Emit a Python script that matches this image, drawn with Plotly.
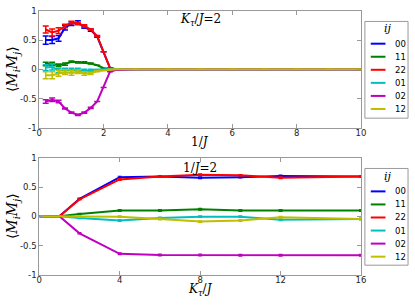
import plotly.graph_objects as go

# ---------------- data ----------------
labels = ["00", "11", "22", "01", "02", "12"]
colors = ["#0000ff", "#008000", "#ff0000", "#00bfbf", "#bf00bf", "#bfbf00"]

# top panel: vs 1/J at K_tau/J = 2
x_top = [0.2, 0.4, 0.6, 0.8, 1.0, 1.2, 1.4, 1.6, 1.8, 2.0, 2.2, 2.4, 3, 4, 5, 6, 7, 8, 9, 10]
top_00 = [0.50, 0.50, 0.53, 0.71, 0.78, 0.80, 0.72, 0.67, 0.56, 0.30, 0.02, 0.0, 0, 0, 0, 0, 0, 0, 0, 0]
top_11 = [0.09, 0.09, 0.07, 0.09, 0.13, 0.12, 0.12, 0.10, 0.07, 0.02, 0.0, 0.0, 0, 0, 0, 0, 0, 0, 0, 0]
top_22 = [0.68, 0.63, 0.66, 0.74, 0.80, 0.78, 0.74, 0.68, 0.57, 0.30, 0.02, 0.0, 0, 0, 0, 0, 0, 0, 0, 0]
top_01 = [0.03, 0.04, -0.02, -0.02, -0.02, -0.01, -0.03, -0.02, -0.01, 0.0, 0.0, 0.0, 0, 0, 0, 0, 0, 0, 0, 0]
top_02 = [-0.55, -0.52, -0.55, -0.67, -0.74, -0.78, -0.74, -0.66, -0.55, -0.31, -0.04, -0.01, 0, 0, 0, 0, 0, 0, 0, 0]
top_12 = [-0.10, -0.10, -0.07, -0.05, -0.06, -0.04, -0.07, -0.07, -0.03, -0.02, 0.0, 0.0, 0, 0, 0, 0, 0, 0, 0, 0]

err_top_00 = [0.07, 0.06, 0.05, 0.04, 0.03, 0.03, 0.02, 0.02, 0.01, 0, 0, 0, 0, 0, 0, 0, 0, 0, 0, 0]
err_top_11 = [0.03, 0.03, 0.02, 0.02, 0.01, 0.01, 0.01, 0.01, 0, 0, 0, 0, 0, 0, 0, 0, 0, 0, 0, 0]
err_top_22 = [0.06, 0.06, 0.05, 0.03, 0.02, 0.02, 0.02, 0.01, 0.01, 0, 0, 0, 0, 0, 0, 0, 0, 0, 0, 0]
err_top_01 = [0.05, 0.05, 0.04, 0.04, 0.04, 0.03, 0.03, 0.02, 0.01, 0, 0, 0, 0, 0, 0, 0, 0, 0, 0, 0]
err_top_02 = [0.03, 0.03, 0.02, 0.01, 0.01, 0.01, 0.01, 0.01, 0, 0, 0, 0, 0, 0, 0, 0, 0, 0, 0, 0]
err_top_12 = [0.06, 0.06, 0.05, 0.04, 0.04, 0.03, 0.03, 0.02, 0.01, 0, 0, 0, 0, 0, 0, 0, 0, 0, 0, 0]

# bottom panel: vs K_tau/J at 1/J = 2
x_bot = [0, 1, 2, 4, 6, 8, 10, 12, 16]
bot_00 = [0, 0, 0.30, 0.67, 0.68, 0.66, 0.67, 0.69, 0.68]
bot_11 = [0, 0, 0.04, 0.10, 0.10, 0.12, 0.10, 0.10, 0.10]
bot_22 = [0, 0, 0.29, 0.63, 0.68, 0.71, 0.70, 0.66, 0.68]
bot_01 = [0, 0, -0.03, -0.07, -0.03, -0.005, -0.005, -0.06, -0.045]
bot_02 = [0, 0, -0.29, -0.64, -0.66, -0.66, -0.665, -0.665, -0.665]
bot_12 = [0, 0, -0.01, -0.005, -0.045, -0.09, -0.07, -0.015, -0.045]
err_bot = [0.0, 0.0, 0.01, 0.015, 0.015, 0.015, 0.015, 0.015, 0.015]

top_tick_vals = [0, 2, 4, 6, 8, 10]
bot_tick_vals = [0, 4, 8, 12, 16]
y_tick_vals = [-1, -0.5, 0, 0.5, 1]
y_tick_text = ["-1", "-0.5", "0", "0.5", "1"]

top_series = [top_00, top_11, top_22, top_01, top_02, top_12]
top_errs = [err_top_00, err_top_11, err_top_22, err_top_01, err_top_02, err_top_12]
bot_series = [bot_00, bot_11, bot_22, bot_01, bot_02, bot_12]

# ---------------- figure ----------------
W, H = 415, 305
fig = go.Figure()

for lab, col, ys, es in zip(labels, colors, top_series, top_errs):
    fig.add_trace(go.Scatter(
        x=x_top, y=ys, mode="lines", name=lab, showlegend=False,
        line=dict(color=col, width=2),
        error_y=dict(type="data", array=es, color=col, thickness=1.5, width=3),
        xaxis="x", yaxis="y"))

for lab, col, ys in zip(labels, colors, bot_series):
    fig.add_trace(go.Scatter(
        x=x_bot, y=ys, mode="lines", name=lab, showlegend=False,
        line=dict(color=col, width=2),
        error_y=dict(type="data", array=err_bot, color=col, thickness=1.2, width=2),
        xaxis="x2", yaxis="y2"))

def px(xp):
    return xp / W

def py(yp):
    return 1 - yp / H

axis_common = dict(
    showgrid=False, zeroline=False, showline=True, linecolor="#999999", linewidth=1,
    mirror="ticks", ticks="inside", ticklen=4, tickcolor="#999999", tickwidth=1,
    tickfont=dict(family="DejaVu Sans", size=8.5, color="#222222"),
)

fig.update_layout(
    width=W, height=H, margin=dict(l=0, r=0, t=0, b=0),
    paper_bgcolor="white", plot_bgcolor="white", showlegend=False,
    xaxis=dict(domain=[px(37), px(365)], range=[0, 10], anchor="y", ticklabelstandoff=-3,
               tickvals=top_tick_vals, ticktext=[str(v) for v in top_tick_vals], **axis_common),
    yaxis=dict(domain=[py(127), py(6)], range=[-1, 1], anchor="x",
               tickvals=y_tick_vals, ticktext=y_tick_text, **axis_common),
    xaxis2=dict(domain=[px(37), px(365)], range=[0, 16], anchor="y2", ticklabelstandoff=-3,
                tickvals=bot_tick_vals, ticktext=[str(v) for v in bot_tick_vals], **axis_common),
    yaxis2=dict(domain=[py(279), py(158)], range=[-1, 1], anchor="x2",
                tickvals=y_tick_vals, ticktext=y_tick_text, **axis_common),
)

serif = dict(family="DejaVu Serif", size=12, color="black")
ann = []

def add_text(x, y, text, font, xref="paper", yref="paper", xanchor="center", **kw):
    ann.append(dict(x=x, y=y, xref=xref, yref=yref, text=text, showarrow=False,
                    font=font, xanchor=xanchor, yanchor="middle", **kw))

# panel annotations
add_text(5, 0.85, "<i>K<sub>τ</sub></i>/<i>J</i>=2", serif, xref="x", yref="y")
add_text(8, 0.82, "1/<i>J</i>=2", serif, xref="x2", yref="y2")
# axis titles
add_text(px(201), py(142), "1/<i>J</i>", serif)
add_text(px(201), py(295), "<i>K<sub>τ</sub></i>/<i>J</i>", serif)
for yc in (66.5, 218.5):
    add_text(px(11), py(yc), "⟨<i>M<sub>i</sub>M<sub>j</sub></i>⟩",
             dict(family="DejaVu Serif", size=14, color="black"), textangle=-90)

shapes = []
# manual legends
for (top, bottom, title_y, first_y) in [(17, 117, 24, 40), (169, 269, 177, 192.7)]:
    shapes.append(dict(type="rect", xref="paper", yref="paper",
                       x0=px(369), x1=px(413), y0=py(bottom), y1=py(top),
                       line=dict(color="#999999", width=1), fillcolor="white"))
    add_text(px(393), py(title_y), "<i>ij</i>", dict(family="DejaVu Serif", size=11, color="black"))
    for k, (lab, col) in enumerate(zip(labels, colors)):
        yy = first_y + k * 13.5
        shapes.append(dict(type="line", xref="paper", yref="paper",
                           x0=px(375), x1=px(390), y0=py(yy), y1=py(yy),
                           line=dict(color=col, width=2)))
        add_text(px(398), py(yy), lab, dict(family="DejaVu Sans", size=8.5, color="black"),
                 xanchor="left")

fig.update_layout(annotations=ann, shapes=shapes)
fig.write_html(
    "out.html", config={"displayModeBar": False},
    post_script=("document.documentElement.style.margin='0';"
                 "document.body.style.margin='0';document.body.style.overflow='hidden';"
                 "var d=document.getElementById('{plot_id}');"
                 "d.style.position='absolute';d.style.top='0px';d.style.left='0px';"))
